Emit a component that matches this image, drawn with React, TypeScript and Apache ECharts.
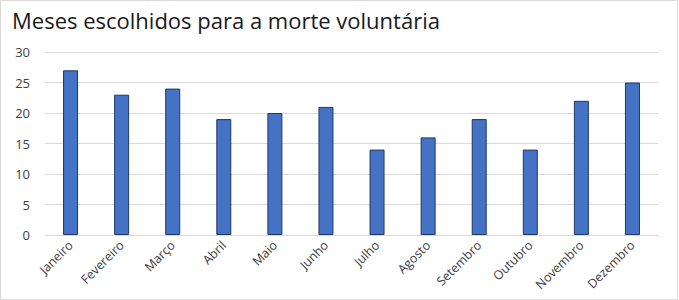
import React, { useEffect, useRef } from "react";
import * as echarts from "echarts";

const titleText = "Meses escolhidos para a morte voluntária";
const months = [
  "Janeiro", "Fevereiro", "Março", "Abril", "Maio", "Junho",
  "Julho", "Agosto", "Setembro", "Outubro", "Novembro", "Dezembro",
];
const values = [27, 23, 24, 19, 20, 21, 14, 16, 19, 14, 22, 25];
const yMin = 0;
const yMax = 30;
const yStep = 5;

export default function App() {
  const ref = useRef<HTMLDivElement>(null);
  useEffect(() => {
    if (!ref.current) return;
    const chart = echarts.init(ref.current, undefined, { renderer: "svg" });
    chart.setOption({
      animation: false,
      backgroundColor: "#ffffff",
      title: {
        text: titleText,
        left: 7,
        top: 4,
        textStyle: {
          fontFamily: "Open Sans",
          fontSize: 22,
          fontWeight: "normal",
          color: "#1a1a1a",
        },
      },
      graphic: [
        {
          type: "rect",
          shape: { x: 0.5, y: 0.5, width: 677, height: 299 },
          style: { fill: "none", stroke: "#d9d9d9", lineWidth: 1 },
          silent: true,
        },
      ],
      grid: { left: 45, right: 21, top: 52, bottom: 65, containLabel: false },
      xAxis: {
        type: "category",
        data: months,
        axisLine: { show: true, lineStyle: { color: "#d9d9d9" } },
        axisTick: { show: false },
        axisLabel: {
          rotate: 45,
          interval: 0,
          margin: 8,
          color: "#404040",
          fontFamily: "Open Sans",
          fontSize: 12.5,
        },
      },
      yAxis: {
        type: "value",
        min: yMin,
        max: yMax,
        interval: yStep,
        axisLine: { show: false },
        axisTick: { show: false },
        splitLine: { lineStyle: { color: "#d9d9d9", width: 1 } },
        axisLabel: {
          margin: 15,
          color: "#404040",
          fontFamily: "Open Sans",
          fontSize: 13,
        },
      },
      series: [
        {
          type: "bar",
          data: values,
          barWidth: 15,
          itemStyle: {
            color: "#4472C4",
            borderColor: "#203864",
            borderWidth: 1,
          },
        },
      ],
    });
    return () => chart.dispose();
  }, []);
  return (
    <div
      ref={ref}
      style={{ position: "fixed", left: 0, top: 0, width: 679, height: 300 }}
    />
  );
}
